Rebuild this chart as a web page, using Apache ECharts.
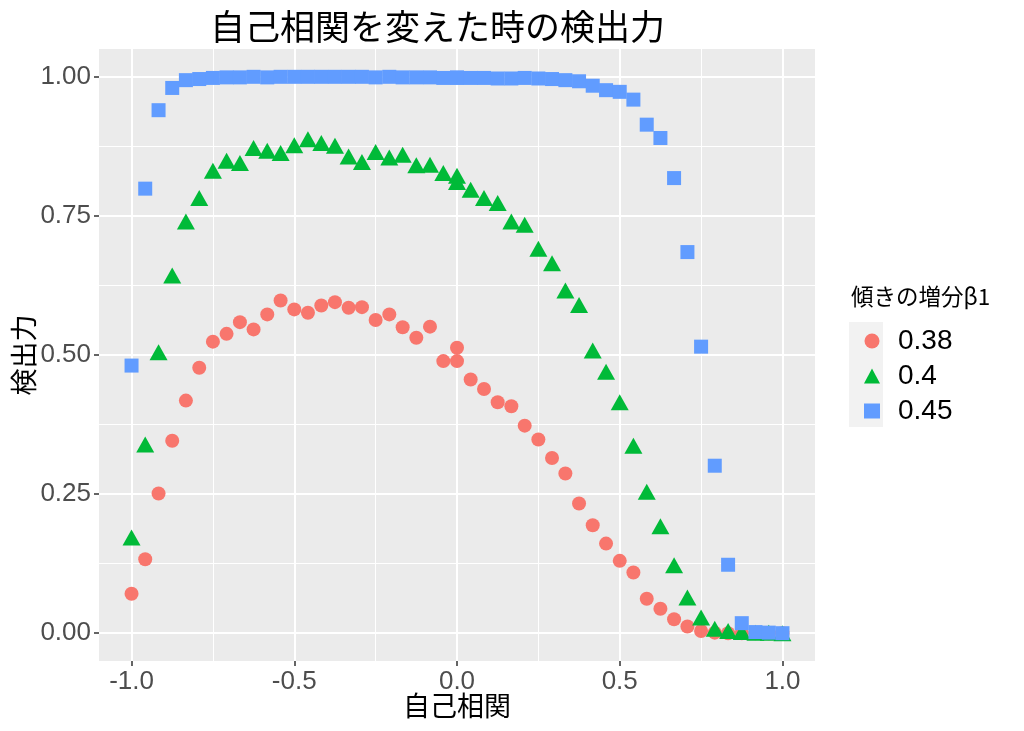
<!DOCTYPE html>
<html>
<head>
<meta charset="utf-8">
<script src="https://cdn.jsdelivr.net/npm/echarts@6/dist/echarts.min.js"></script>
<style>
html,body{margin:0;padding:0;background:#fff;}
#chart{width:1024px;height:731px;}
</style>
</head>
<body>
<div id="chart"></div>
<script>
// x values (自己相関)
const xValues = [-1, -0.958, -0.917, -0.875, -0.833, -0.792, -0.75, -0.708, -0.667, -0.625, -0.583, -0.542, -0.5, -0.458, -0.417, -0.375, -0.333, -0.292, -0.25, -0.208, -0.167, -0.125, -0.083, -0.042, 0, 0, 0.042, 0.083, 0.125, 0.167, 0.208, 0.25, 0.292, 0.333, 0.375, 0.417, 0.458, 0.5, 0.542, 0.583, 0.625, 0.667, 0.708, 0.75, 0.792, 0.833, 0.875, 0.917, 0.958, 1];

// 検出力 for β1 = 0.38
const power038 = [0.071, 0.133, 0.251, 0.346, 0.418, 0.477, 0.524, 0.538, 0.559, 0.546, 0.573, 0.598, 0.582, 0.576, 0.589, 0.595, 0.585, 0.586, 0.563, 0.573, 0.550, 0.531, 0.551, 0.489,
  0.513, 0.489,
  0.456, 0.439, 0.415, 0.408, 0.373, 0.348, 0.315, 0.287, 0.233, 0.194, 0.161, 0.130, 0.109, 0.062, 0.044, 0.025, 0.012, 0.004, 0.001, 0, 0, 0, 0, 0];

// 検出力 for β1 = 0.4
const power040 = [0.172, 0.339, 0.505, 0.643, 0.740, 0.782, 0.831, 0.849, 0.845, 0.872, 0.867, 0.863, 0.877, 0.888, 0.881, 0.876, 0.857, 0.847, 0.865, 0.855, 0.860, 0.841, 0.842, 0.827,
  0.822, 0.811,
  0.797, 0.782, 0.773, 0.740, 0.734, 0.691, 0.665, 0.616, 0.590, 0.508, 0.470, 0.415, 0.337, 0.254, 0.192, 0.122, 0.064, 0.028, 0.008, 0.004, 0.002, 0.001, 0.001, 0];

// 検出力 for β1 = 0.45
const power045 = [0.481, 0.799, 0.940, 0.980, 0.994, 0.996, 0.998, 0.999, 0.999, 1.000, 0.999, 1.000, 1.000, 1.000, 1.000, 1.000, 1.000, 1.000, 0.999, 1.000, 0.999, 0.999, 0.999, 0.998,
  0.999, 0.998,
  0.998, 0.998, 0.997, 0.997, 0.998, 0.997, 0.996, 0.994, 0.992, 0.984, 0.976, 0.973, 0.959, 0.914, 0.890, 0.818, 0.685, 0.515, 0.301, 0.123, 0.018, 0.002, 0.001, 0];

const seriesNames = ['0.38', '0.4', '0.45'];
const xMajorTicks = [-1, -0.5, 0, 0.5, 1];
const xMinorTicks = [-0.75, -0.25, 0.25, 0.75];
const yMajorTicks = [0, 0.25, 0.5, 0.75, 1];
const yMinorTicks = [0.125, 0.375, 0.625, 0.875];

const pair = (ys) => xValues.map((x, i) => [x, ys[i]]);

const FONT = "'Liberation Sans', 'Noto Sans CJK JP', sans-serif";
const CJK = "'Noto Sans CJK JP', 'Liberation Sans', sans-serif";

const chart = echarts.init(document.getElementById('chart'), null, {renderer: 'canvas'});

const option = {
  backgroundColor: '#ffffff',
  animation: false,
  title: {
    text: '自己相関を変えた時の検出力',
    left: 205, top: 4,
    textStyle: {fontFamily: CJK, fontSize: 35, fontWeight: 'normal', color: '#000'}
  },
  grid: {left: 99, top: 49, width: 716, height: 612, show: true, backgroundColor: '#EBEBEB', borderWidth: 0,
    containLabel: false, outerBoundsMode: 'none'},
  xAxis: [{
    type: 'value', min: -1.1, max: 1.1, position: 'bottom',
    name: '自己相関', nameLocation: 'middle', nameGap: 31, nameMoveOverlap: false,
    nameTextStyle: {fontFamily: CJK, fontSize: 27, color: '#000'},
    axisLine: {show: false, onZero: false},
    axisTick: {show: true, length: 5, customValues: xMajorTicks, lineStyle: {color: '#333', width: 1.5}},
    axisLabel: {customValues: xMajorTicks, margin: 8, fontFamily: FONT, fontSize: 26, color: '#4D4D4D',
      formatter: v => v.toFixed(1)},
    splitLine: {show: true, lineStyle: {color: '#fff', width: 2}}
  }, {
    type: 'value', min: -1.1, max: 1.1, position: 'top',
    axisLine: {show: false, onZero: false}, axisTick: {show: false, customValues: xMinorTicks},
    axisLabel: {show: false, customValues: xMinorTicks},
    splitLine: {show: true, lineStyle: {color: '#fff', width: 1}}
  }],
  yAxis: [{
    type: 'value', min: -0.05, max: 1.05, position: 'left',
    name: '検出力', nameLocation: 'middle', nameGap: 62, nameRotate: 90, nameMoveOverlap: false,
    nameTextStyle: {fontFamily: CJK, fontSize: 27, color: '#000'},
    axisLine: {show: false, onZero: false},
    axisTick: {show: true, length: 5, customValues: yMajorTicks, lineStyle: {color: '#333', width: 1.5}},
    axisLabel: {customValues: yMajorTicks, margin: 8, fontFamily: FONT, fontSize: 26, color: '#4D4D4D',
      formatter: v => v.toFixed(2)},
    splitLine: {show: true, lineStyle: {color: '#fff', width: 2}}
  }, {
    type: 'value', min: -0.05, max: 1.05, position: 'right',
    axisLine: {show: false, onZero: false}, axisTick: {show: false, customValues: yMinorTicks},
    axisLabel: {show: false, customValues: yMinorTicks},
    splitLine: {show: true, lineStyle: {color: '#fff', width: 1}}
  }],
  legend: {
    orient: 'vertical', left: 859, top: 321,
    itemWidth: 16, itemHeight: 15, itemGap: 5,
    data: [
      {name: seriesNames[0], icon: 'circle'},
      {name: seriesNames[1], icon: 'triangle'},
      {name: seriesNames[2], icon: 'rect'}
    ],
    textStyle: {fontFamily: FONT, fontSize: 28, color: '#000', lineHeight: 30, padding: [0, 0, 0, 13]}
  },
  graphic: [
    {type: 'rect', left: 849, top: 322, z: -1, shape: {width: 34, height: 105}, style: {fill: '#F2F2F2'}},
    {type: 'text', left: 851, top: 285, style: {text: '傾きの増分β1', fontFamily: CJK, fontSize: 22.5, fill: '#000'}}
  ],
  series: [
    {name: seriesNames[0], type: 'scatter', data: pair(power038), symbol: 'circle', symbolSize: 14,
      itemStyle: {color: '#F8766D', opacity: 1}},
    {name: seriesNames[1], type: 'scatter', data: pair(power040), symbol: 'triangle', symbolSize: [18, 16],
      itemStyle: {color: '#00BA38', opacity: 1}},
    {name: seriesNames[2], type: 'scatter', data: pair(power045), symbol: 'rect', symbolSize: 14,
      itemStyle: {color: '#619CFF', opacity: 1}}
  ]
};
chart.setOption(option);
</script>
</body>
</html>
